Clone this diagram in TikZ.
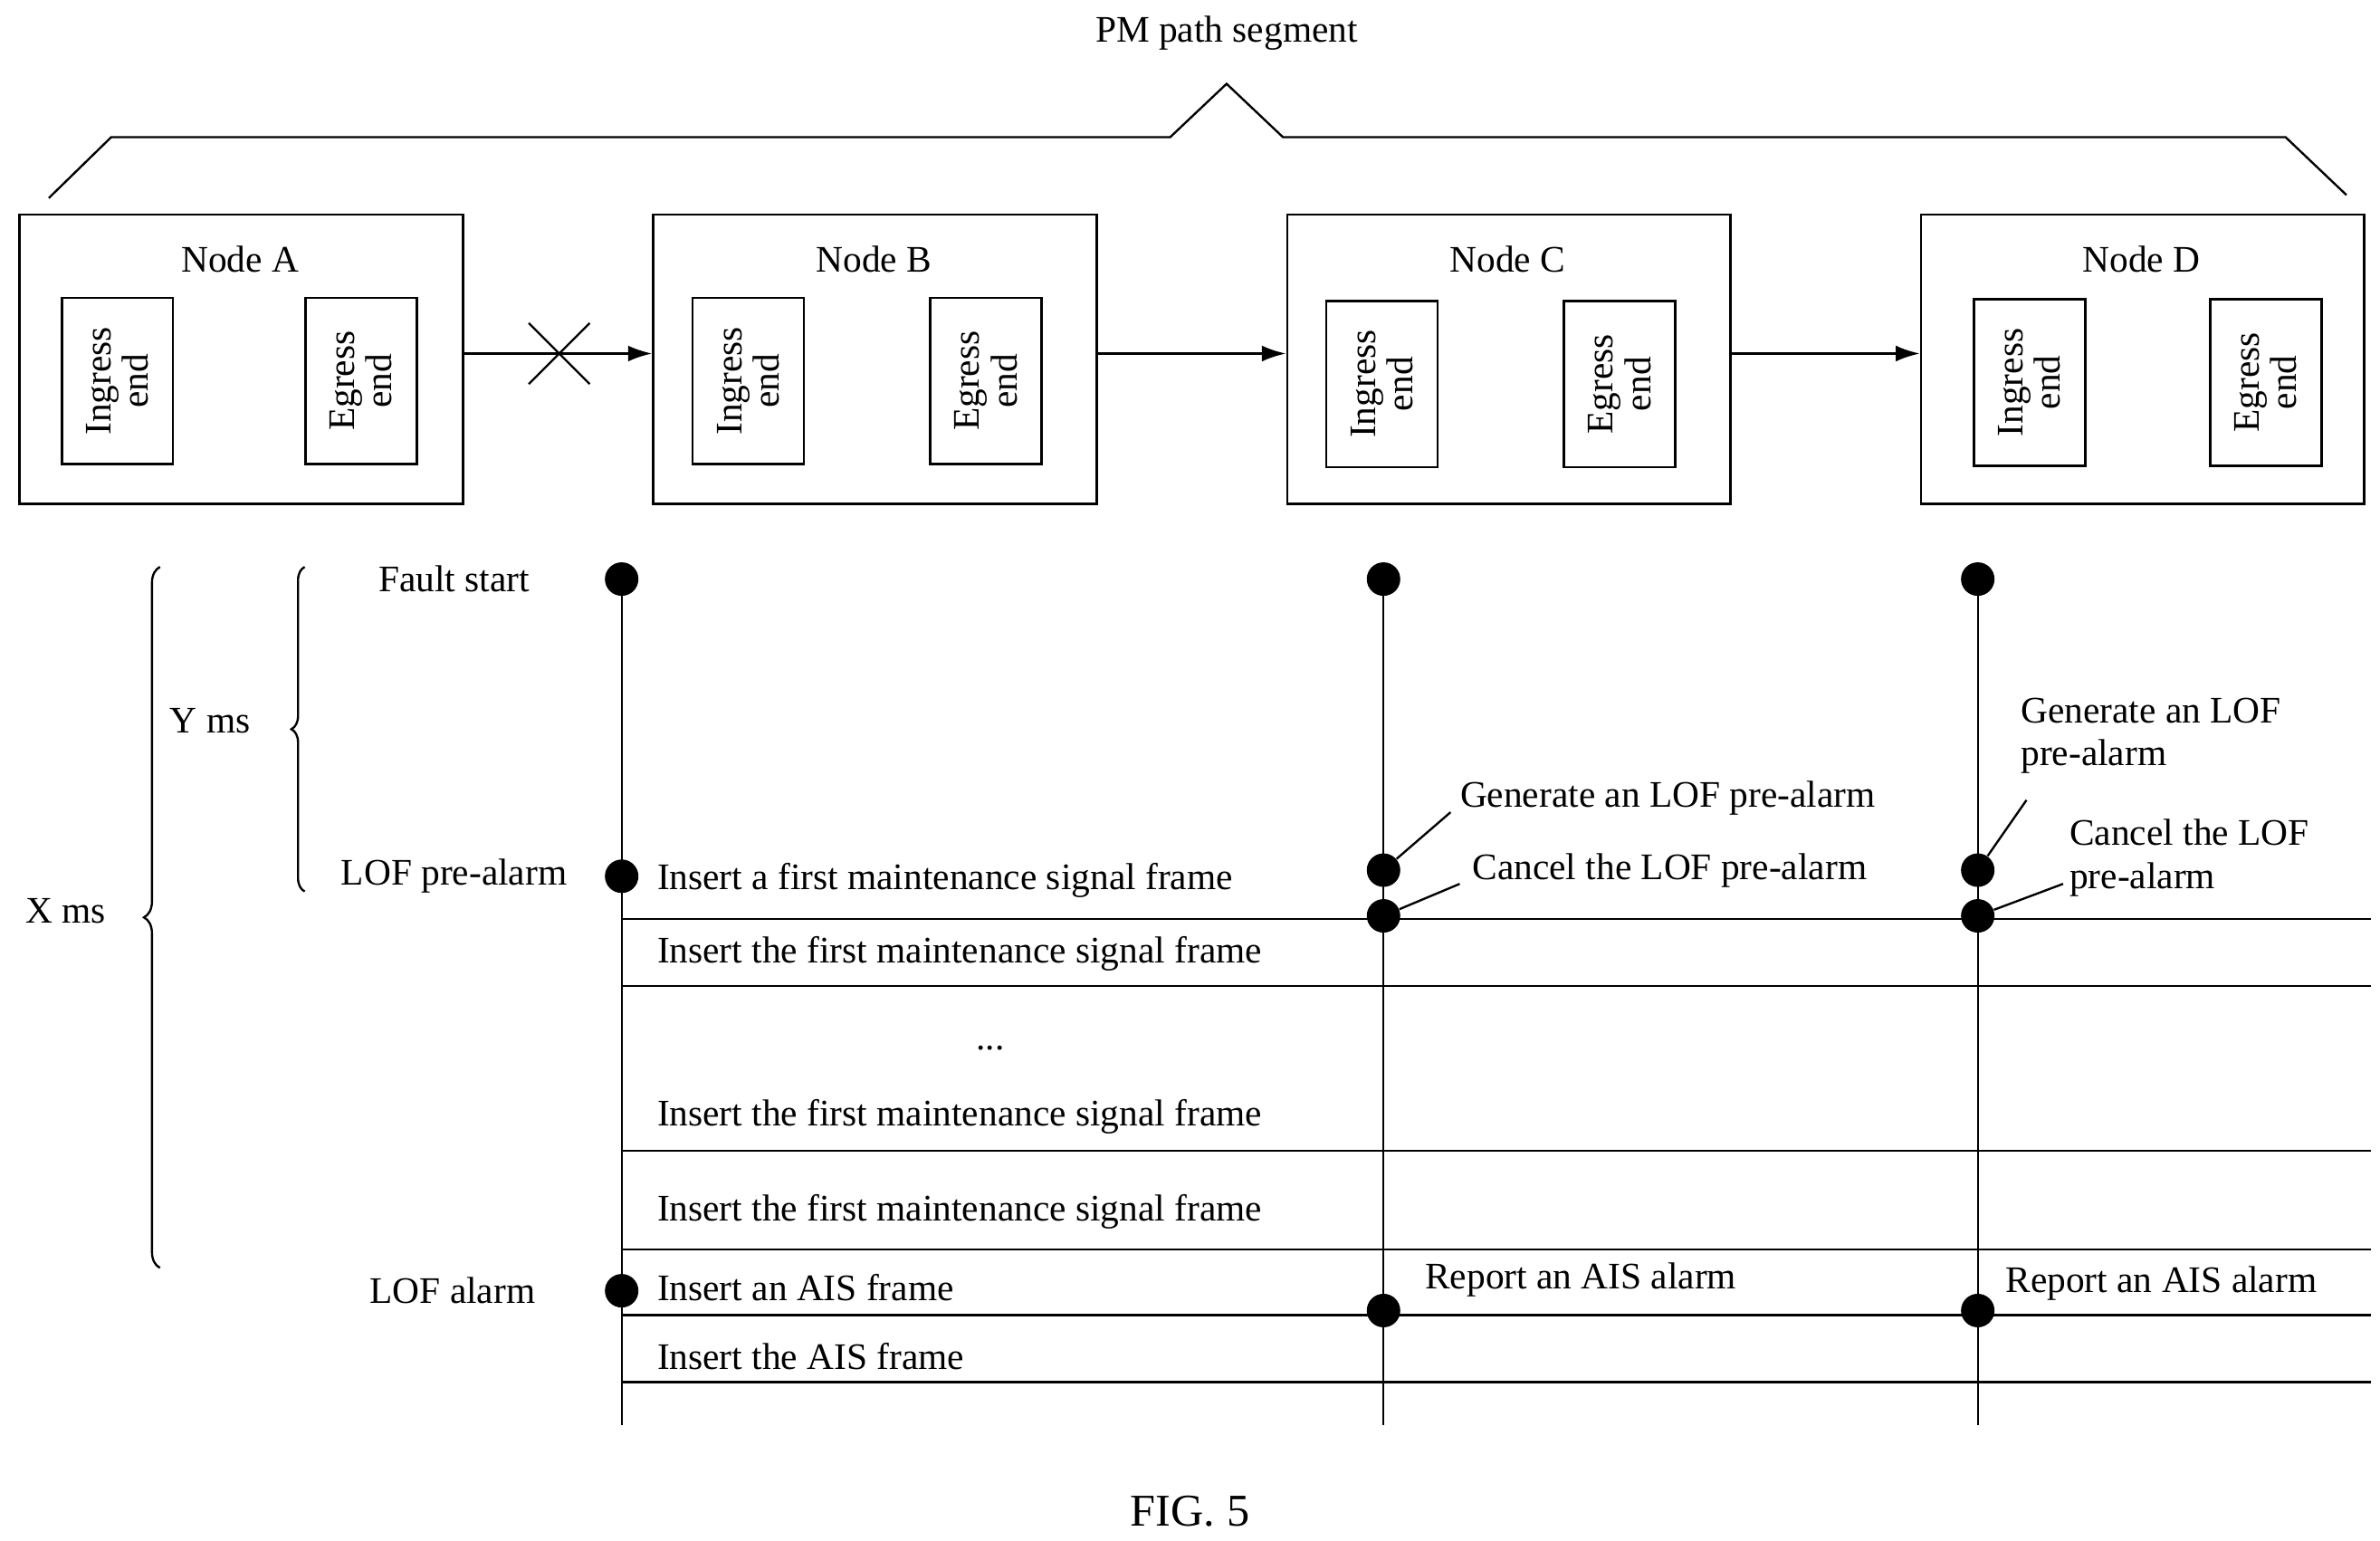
\documentclass[tikz,border=0pt]{standalone}
\usepackage{fontspec}
\setmainfont{Liberation Serif}
\usetikzlibrary{arrows.meta,decorations.pathreplacing,calc}
\begin{document}
\begin{tikzpicture}[x=0.02cm,y=-0.02cm,
  every node/.style={font=\fontsize{14}{16}\selectfont},
  box/.style={draw,line width=0.9pt},
  inner/.style={draw,line width=0.9pt,minimum width=1.46cm,minimum height=2.18cm,inner sep=0pt},
  ln/.style={line width=0.8pt},
  dot/.style={circle,fill=black,minimum size=0.44cm,inner sep=0pt},
  arr/.style={line width=0.9pt,-{Latex[length=9pt,width=6pt]}},
  lt/.style={anchor=west,inner sep=0pt},
  rot/.style={rotate=90,align=center,inner sep=0pt,font=\fontsize{14}{14}\selectfont}]
\useasboundingbox (0,0) rectangle (1562,1011);
\node (title) at (805,22) {PM path segment};
\draw[ln] (32,130)--(73,90)--(768,90)--(805,55)--(842,90)--(1500,90)--(1540,128);
% nodes
\foreach \n/\x/\ia/\ea/\iy in {A/12/77/237/250,B/428/491/647/250,C/844/907/1063/252,D/1260/1332/1487/251}{
  \node[box,minimum width=5.82cm,minimum height=3.8cm,inner sep=0pt,anchor=north west] (N\n) at (\x,140) {};
  \node at ($(\x,170)+(145.5,0)$) {Node \n};
  \node[inner] (I\n) at (\ia,\iy) {};
  \node[rot] at (I\n) {Ingress\\end};
  \node[inner] (E\n) at (\ea,\iy) {};
  \node[rot] at (E\n) {Egress\\end};
}
\draw[arr] (NA.east|-0,232) -- (NB.west|-0,232);
\draw[ln] (347,212)--(387,252) (347,252)--(387,212);
\draw[arr] (NB.east|-0,232) -- (NC.west|-0,232);
\draw[arr] (NC.east|-0,232) -- (ND.west|-0,232);
% timelines
\foreach \x/\n in {408/a,908/c,1298/d}{
  \coordinate (top\n) at (\x,380); \coordinate (bot\n) at (\x,935);
  \draw[ln] (top\n)--(bot\n);
  \node[dot] at (top\n) {};
}
\foreach \y in {603,647,755,820,863,907}{ \draw[ln] (408,\y)--(1556,\y); }
\node[dot] (a1) at (408,575) {};
\node[dot] (a2) at (408,847) {};
\node[dot] (c1) at (908,571) {};
\node[dot] (c2) at (908,601) {};
\node[dot] (c3) at (908,860) {};
\node[dot] (d1) at (1298,571) {};
\node[dot] (d2) at (1298,601) {};
\node[dot] (d3) at (1298,860) {};
% left labels
\node (fs) at (298,380) {Fault start};
\node (lp) at (298,575) {LOF pre-alarm};
\node (la) at (297,847) {LOF alarm};
\node (ym) at (138,473) {Y ms};
\node (xm) at (43,598) {X ms};
\draw[ln,decorate,decoration={brace,amplitude=5pt}] (200,585)--(200,372);
\draw[ln,decorate,decoration={brace,amplitude=6pt}] (105,832)--(105,372);
% timeline texts
\node[lt] at (431,578) {Insert a first maintenance signal frame};
\node[lt] at (431,626) {Insert the first maintenance signal frame};
\node at (650,688) {...};
\node[lt] at (431,733) {Insert the first maintenance signal frame};
\node[lt] at (431,795) {Insert the first maintenance signal frame};
\node[lt] at (431,845) {Insert an AIS frame};
\node[lt] at (431,890) {Insert the AIS frame};
% C annotations
\node[lt] (cg) at (958,524) {Generate an LOF pre-alarm};
\draw[ln] (c1) -- (952,533);
\node[lt] (cc) at (966,571) {Cancel the LOF pre-alarm};
\draw[ln] (c2) -- (958,580);
\node[lt] at (935,840) {Report an AIS alarm};
% D annotations
\node[lt,align=left] at (1326,483) {Generate an LOF\\pre-alarm};
\draw[ln] (d1) -- (1330,525);
\node[lt,align=left] at (1358,563) {Cancel the LOF\\pre-alarm};
\draw[ln] (d2) -- (1354,580);
\node[lt] at (1316,842) {Report an AIS alarm};
\node[font=\fontsize{17}{19}\selectfont] at (781,992) {FIG. 5};
\end{tikzpicture}
\end{document}
